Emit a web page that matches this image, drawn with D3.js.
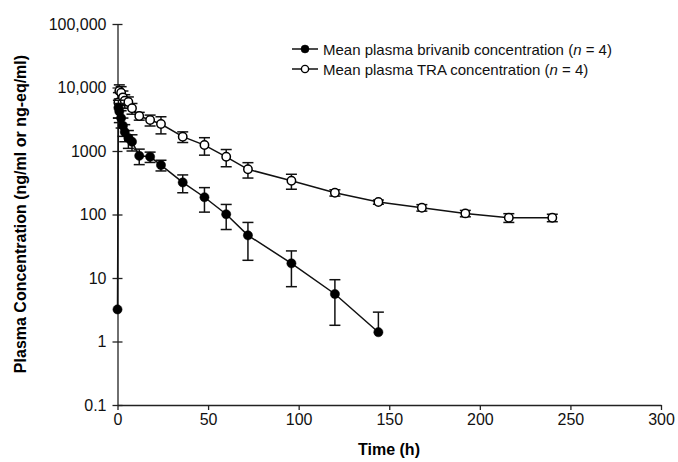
<!DOCTYPE html>
<html>
<head>
<meta charset="utf-8">
<script src="https://cdn.jsdelivr.net/npm/d3@7"></script>
<style>
body { margin: 0; background: #fff; }
svg { font-family: "Liberation Sans", Arial, Helvetica, sans-serif; }
</style>
</head>
<body>
<svg id="chart" width="678" height="462"></svg>
<script>
// brivanib (filled circles)
var brivTime = [0, 0.5, 1, 2, 3, 4, 6, 8, 12, 18, 24, 36, 48, 60, 72, 96, 120, 144];
var brivMean = [3.2, 4800, 4200, 3300, 2500, 2000, 1600, 1400, 840, 810, 600, 320, 187, 101, 47, 17, 5.6, 1.4];
var brivSd   = [0, 1500, 1400, 1000, 800, 600, 500, 400, 230, 150, 115, 100, 78, 43, 28, 9.7, 3.8, 1.5];

// TRA (open circles)
var traTime = [0.5, 1, 2, 3, 4, 6, 8, 12, 18, 24, 36, 48, 60, 72, 96, 120, 144, 168, 192, 216, 240];
var traMean = [5800, 8800, 8300, 7000, 6200, 5900, 4700, 3560, 3075, 2660, 1680, 1240, 810, 515, 340, 220, 157, 128, 104, 89, 89];
var traSd   = [2500, 2200, 2000, 1800, 1500, 1200, 900, 500, 600, 800, 320, 380, 245, 140, 90, 25, 12, 15, 12, 14, 12];

var xTicks = [0, 50, 100, 150, 200, 250, 300];
var yTicks = [0.1, 1, 10, 100, 1000, 10000, 100000];
var yTickLabels = ["0.1", "1", "10", "100", "1000", "10,000", "100,000"];

var legendNames = ["Mean plasma brivanib concentration (", "Mean plasma TRA concentration ("];

var svg = d3.select("#chart");

var x = d3.scaleLinear().domain([0, 300]).range([117.5, 661]);
var y = d3.scaleLog().domain([0.1, 100000]).range([405, 24]);

// axes
var xAxis = svg.append("g")
    .attr("transform", "translate(0,405)")
    .call(d3.axisBottom(x).tickValues(xTicks).tickSize(5).tickSizeOuter(0).tickPadding(4));
var yAxis = svg.append("g")
    .attr("transform", "translate(117.5,0)")
    .call(d3.axisLeft(y).tickValues(yTicks).tickFormat(function(d, i){ return yTickLabels[i]; })
        .tickSize(5).tickSizeOuter(0).tickPadding(6));

yAxis.selectAll(".tick line").attr("x1", 5);
[xAxis, yAxis].forEach(function(a){
    a.select(".domain").attr("stroke", "#222").attr("stroke-width", 1.3);
    a.selectAll(".tick line").attr("stroke", "#222").attr("stroke-width", 1.3);
    a.selectAll(".tick text").attr("fill", "#111").style("font-size", "16px")
        .style("font-family", "'Liberation Sans', Arial, sans-serif");
});

svg.append("text")
    .attr("x", 389).attr("y", 455)
    .attr("text-anchor", "middle")
    .style("font-size", "16px").style("font-weight", "bold")
    .text("Time (h)");

svg.append("text")
    .attr("transform", "translate(26,214) rotate(-90)")
    .attr("text-anchor", "middle")
    .style("font-size", "16px").style("font-weight", "bold")
    .text("Plasma Concentration (ng/ml or ng-eq/ml)");

function series(times, means, sds, filled) {
    var data = times.map(function(t, i){ return {t: t, m: means[i], s: sds[i]}; });
    var line = d3.line().x(function(d){ return x(d.t); }).y(function(d){ return y(d.m); });
    var g = svg.append("g");
    g.append("path").datum(data)
        .attr("d", line)
        .attr("fill", "none").attr("stroke", "#111").attr("stroke-width", 1.5);

    var eb = g.selectAll(".eb").data(data.filter(function(d){ return d.s > 0; }))
        .enter().append("g");
    eb.append("line")
        .attr("x1", function(d){ return x(d.t); }).attr("x2", function(d){ return x(d.t); })
        .attr("y1", function(d){ return y(d.m + d.s); })
        .attr("y2", function(d){ return d.m - d.s > 0 ? y(d.m - d.s) : y(d.m); })
        .attr("stroke", "#111").attr("stroke-width", 1.5);
    eb.append("line")
        .attr("x1", function(d){ return x(d.t) - 5.5; }).attr("x2", function(d){ return x(d.t) + 5.5; })
        .attr("y1", function(d){ return y(d.m + d.s); }).attr("y2", function(d){ return y(d.m + d.s); })
        .attr("stroke", "#111").attr("stroke-width", 1.5);
    eb.filter(function(d){ return d.m - d.s > 0; }).append("line")
        .attr("x1", function(d){ return x(d.t) - 5.5; }).attr("x2", function(d){ return x(d.t) + 5.5; })
        .attr("y1", function(d){ return y(d.m - d.s); }).attr("y2", function(d){ return y(d.m - d.s); })
        .attr("stroke", "#111").attr("stroke-width", 1.5);

    g.selectAll("circle").data(data).enter().append("circle")
        .attr("cx", function(d){ return x(d.t); })
        .attr("cy", function(d){ return y(d.m); })
        .attr("r", filled ? 4.6 : 4.2)
        .attr("fill", filled ? "#000" : "#fff")
        .attr("stroke", "#000").attr("stroke-width", filled ? 0.5 : 1.5);
}

series(traTime, traMean, traSd, false);
series(brivTime, brivMean, brivSd, true);

// legend
var leg = svg.append("g").attr("transform", "translate(292,49)");
legendNames.forEach(function(name, i) {
    var row = leg.append("g").attr("transform", "translate(0," + (i * 20) + ")");
    row.append("line").attr("x1", 0).attr("x2", 26).attr("y1", 0).attr("y2", 0)
        .attr("stroke", "#111").attr("stroke-width", 1.5);
    row.append("circle").attr("cx", 13).attr("cy", 0).attr("r", i == 0 ? 4 : 3.6)
        .attr("fill", i == 0 ? "#000" : "#fff").attr("stroke", "#000").attr("stroke-width", i == 0 ? 0.5 : 1.4);
    var t = row.append("text").attr("x", 31).attr("y", 5.5)
        .style("font-size", "15px").attr("fill", "#111");
    t.append("tspan").text(name);
    t.append("tspan").style("font-style", "italic").text("n");
    t.append("tspan").text(" = 4)");
});
</script>
</body>
</html>
